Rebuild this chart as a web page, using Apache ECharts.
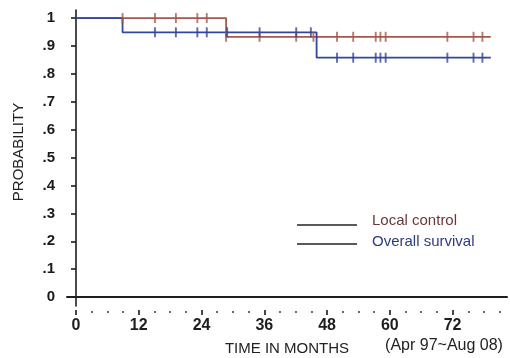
<!DOCTYPE html>
<html>
<head>
<meta charset="utf-8">
<script src="https://cdn.jsdelivr.net/npm/echarts@6/dist/echarts.min.js"></script>
<style>html,body{margin:0;padding:0;background:#fff;}#c{width:510px;height:358px;}</style>
</head>
<body>
<div id="c"></div>
<script>
// Kaplan-Meier step data [month, probability]
const localControlSteps = [[0, 1], [28.7, 0.933], [79.3, 0.933]];
const overallSurvivalSteps = [[0, 1], [8.9, 0.949], [46, 0.858], [79.3, 0.858]];
// censored observation times (months)
const localControlCensor = [8.9, 15.1, 19.1, 23.2, 25, 28.7, 35.1, 42.1, 45.4, 49.9, 53, 57.3, 58.2, 59.2, 71, 76, 77.7];
const overallSurvivalCensor = [15.1, 19.1, 23.2, 25, 28.9, 35.1, 42.1, 44.9, 49.9, 53, 57.3, 58.2, 59.2, 71, 76, 77.7];
// axis ticks
const xMajorTicks = [0, 12, 24, 36, 48, 60, 72];
const xMinorTicks = [3, 6, 9, 15, 18, 21, 27, 30, 33, 39, 42, 45, 51, 54, 57, 63, 66, 69, 75, 78, 81];
const yTicks = [0, 0.1, 0.2, 0.3, 0.4, 0.5, 0.6, 0.7, 0.8, 0.9, 1];
const yTickLabels = ['0', '.1', '.2', '.3', '.4', '.5', '.6', '.7', '.8', '.9', '1'];

function levelAt(steps, t) {
  let v = steps[0][1];
  for (const s of steps) { if (t >= s[0] - 1e-9) v = s[1]; }
  return v;
}
const redC = '#a5584e', blueC = '#33479a';
const X_MIN = -1.72, X_MAX = 82.4, Y_MIN = -0.032, Y_MAX = 1.029;
const grid = {left: 67, right: 3, top: 10, bottom: 52};
const baseX = {type: 'value', min: X_MIN, max: X_MAX, splitLine: {show: false}};

const chart = echarts.init(document.getElementById('c'));
chart.setOption({
  animation: false,
  grid: grid,
  xAxis: [
    Object.assign({}, baseX, {
      position: 'bottom',
      axisLine: {show: true, lineStyle: {color: '#1e1e1e', width: 2}},
      axisTick: {show: false},
      axisLabel: {customValues: xMajorTicks, margin: 12, color: '#1e1e1e',
        fontFamily: 'Liberation Sans', fontWeight: 'bold', fontSize: 16}
    }),
    Object.assign({}, baseX, {
      position: 'bottom', offset: 4,
      axisLine: {show: false},
      axisTick: {show: true, customValues: xMajorTicks, length: 5, lineStyle: {color: '#333', width: 1.8}},
      axisLabel: {show: false}
    }),
    Object.assign({}, baseX, {
      position: 'bottom', offset: 5,
      axisLine: {show: false},
      axisTick: {show: true, customValues: xMinorTicks, length: 2, lineStyle: {color: '#444', width: 1.6}},
      axisLabel: {show: false}
    })
  ],
  yAxis: {
    type: 'value', min: Y_MIN, max: Y_MAX,
    splitLine: {show: false},
    axisLine: {show: true, lineStyle: {color: '#1e1e1e', width: 1.6}},
    axisTick: {show: true, customValues: yTicks, length: 5, lineStyle: {color: '#1e1e1e', width: 1.6}},
    axisLabel: {customValues: yTicks, margin: 12, color: '#1a1a1a',
      fontFamily: 'Liberation Sans', fontWeight: 'bold', fontSize: 15,
      formatter: function (v) {
        const i = yTicks.findIndex(t => Math.abs(t - v) < 1e-6);
        return i >= 0 ? yTickLabels[i] : '';
      }}
  },
  series: [
    {name: 'Local control', type: 'line', step: 'end', data: localControlSteps, showSymbol: false,
      lineStyle: {color: redC, width: 1.8}, z: 3},
    {name: 'Overall survival', type: 'line', step: 'end', data: overallSurvivalSteps, showSymbol: false,
      lineStyle: {color: blueC, width: 1.8}, z: 4},
    {name: 'Local control censored', type: 'scatter', symbol: 'rect', symbolSize: [1.9, 10],
      data: localControlCensor.map(t => [t, levelAt(localControlSteps, t)]),
      itemStyle: {color: redC}, z: 5},
    {name: 'Overall survival censored', type: 'scatter', symbol: 'rect', symbolSize: [1.9, 10],
      data: overallSurvivalCensor.map(t => [t, levelAt(overallSurvivalSteps, t)]),
      itemStyle: {color: blueC}, z: 6}
  ],
  graphic: [
    {type: 'text', x: 19, y: 152, rotation: Math.PI / 2,
      style: {text: 'PROBABILITY', align: 'center', verticalAlign: 'middle',
        font: '15px "Liberation Sans"', fill: '#222'}},
    {type: 'text', x: 287, y: 349,
      style: {text: 'TIME IN MONTHS', align: 'center', verticalAlign: 'middle',
        font: '15px "Liberation Sans"', fill: '#222'}},
    {type: 'text', x: 444, y: 346,
      style: {text: '(Apr 97~Aug 08)', align: 'center', verticalAlign: 'middle',
        font: '16px "Liberation Sans"', fill: '#222'}},
    {type: 'line', shape: {x1: 297, y1: 225, x2: 357, y2: 225}, style: {stroke: '#222', lineWidth: 1.5}},
    {type: 'line', shape: {x1: 297, y1: 244, x2: 357, y2: 244}, style: {stroke: '#222', lineWidth: 1.5}},
    {type: 'text', x: 372, y: 221,
      style: {text: 'Local control', align: 'left', verticalAlign: 'middle',
        font: '15px "Liberation Sans"', fill: '#6a3838'}},
    {type: 'text', x: 372, y: 242,
      style: {text: 'Overall survival', align: 'left', verticalAlign: 'middle',
        font: '15px "Liberation Sans"', fill: '#2d3b80'}}
  ]
});
</script>
</body>
</html>
